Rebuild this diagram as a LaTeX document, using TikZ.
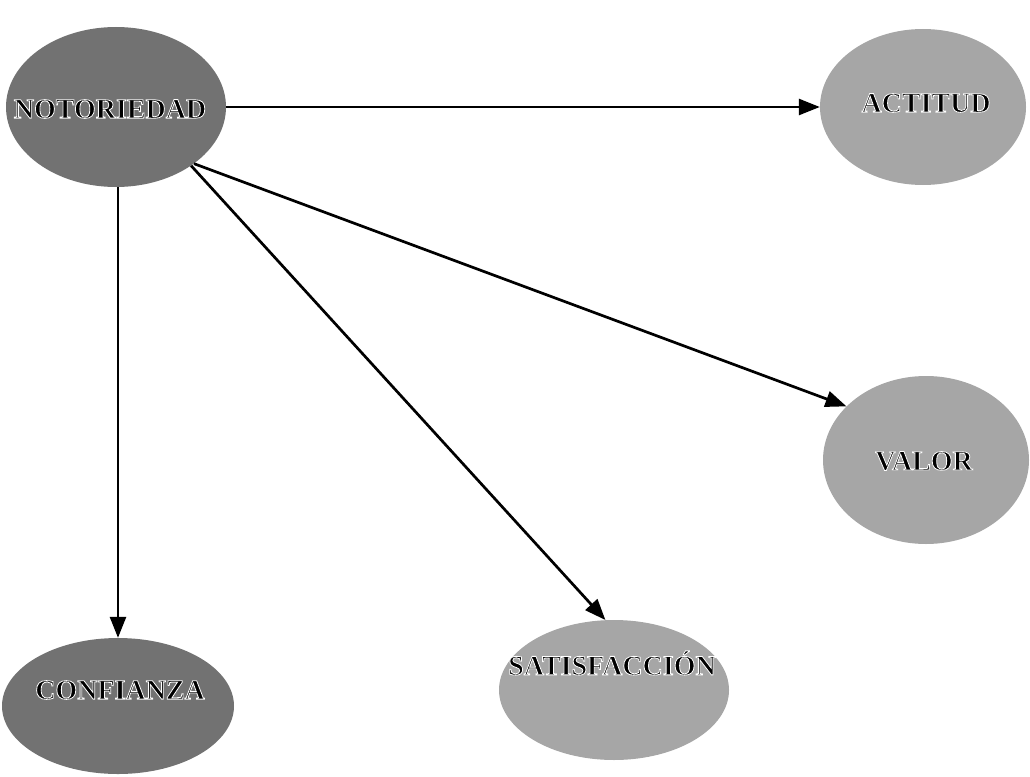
\documentclass[tikz,border=0pt]{standalone}
\usepackage{fontspec}
\setmainfont{Liberation Serif}
\usetikzlibrary{shapes.geometric,arrows.meta}

% Bold label whose letters get a thin white rim (fill and stroke render mode)
\newcommand\rimword[1]{%
  \special{pdf:code q 1 1 1 RG 0.8 w 2 Tr}#1\special{pdf:code Q}}

\definecolor{darkfill}{HTML}{727272}
\definecolor{lightfill}{HTML}{A6A6A6}

\tikzset{
  bubble/.style={ellipse, inner sep=0pt, draw=none},
  darkbubble/.style={bubble, fill=darkfill},
  lightbubble/.style={bubble, fill=lightfill},
  caption/.style={font=\fontsize{28}{32}\selectfont\bfseries, text=black, inner sep=0pt},
  link/.style={line width=2.7pt, -{Triangle[length=21pt,width=16pt]}}
}

\begin{document}
\begin{tikzpicture}[x=1pt,y=-1pt]
  \useasboundingbox (0,0) rectangle (1030,776);

  % ellipses
  \node[darkbubble, minimum width=220pt, minimum height=160pt] (noto) at (116,107) {};
  \node[lightbubble, minimum width=206pt, minimum height=156pt] (acti) at (923,107) {};
  \node[lightbubble, minimum width=206pt, minimum height=168pt] (valo) at (926,460) {};
  \node[darkbubble, minimum width=232pt, minimum height=136pt] (conf) at (118,706) {};
  \node[lightbubble, minimum width=230pt, minimum height=140pt] (sati) at (614,690) {};

  % captions
  \node[caption] (tnoto) at (110,109) {\rimword{NOTORIEDAD}};
  \node[caption] (tacti) at (926,103) {\rimword{ACTITUD}};
  \node[caption] (tvalo) at (924,461) {\rimword{VALOR}};
  \node[caption] (tconf) at (120,690) {\rimword{CONFIANZA}};
  \node[caption] (tsati) at (612,663) {\rimword{SATISFACCIÓN}};

  % connectors
  \draw[link] (noto) -- (acti);
  \draw[link] (noto.south -| conf.north) -- (conf);
  \draw[link] (noto.-38) -- (sati.97);
  \draw[link] (noto.-36) -- (valo.146);
\end{tikzpicture}
\end{document}
